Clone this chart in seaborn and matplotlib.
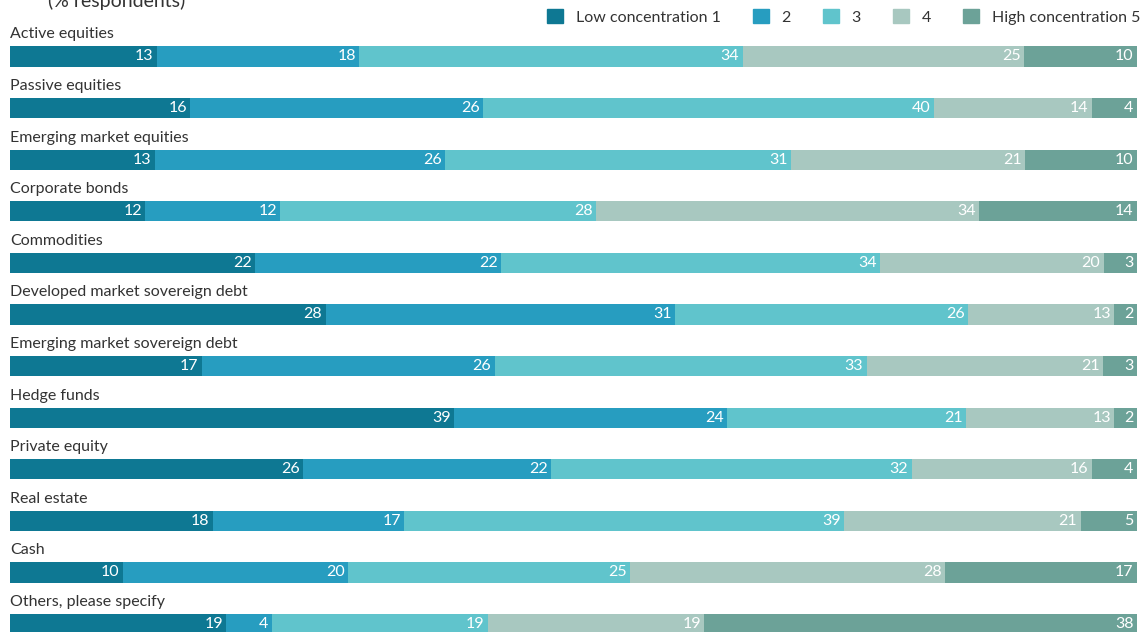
import matplotlib
matplotlib.use("Agg")
import matplotlib.pyplot as plt
import matplotlib.patches as mpatches
import numpy as np
import pandas as pd
import seaborn as sns

categories = ["Active equities", "Passive equities", "Emerging market equities",
              "Corporate bonds", "Commodities", "Developed market sovereign debt",
              "Emerging market sovereign debt", "Hedge funds", "Private equity",
              "Real estate", "Cash", "Others, please specify"]
series_names = ["Low concentration 1", "2", "3", "4", "High concentration 5"]
s1 = [13, 16, 13, 12, 22, 28, 17, 39, 26, 18, 10, 19]
s2 = [18, 26, 26, 12, 22, 31, 26, 24, 22, 17, 20, 4]
s3 = [34, 40, 31, 28, 34, 26, 33, 21, 32, 39, 25, 19]
s4 = [25, 14, 21, 34, 20, 13, 21, 13, 16, 21, 28, 19]
s5 = [10, 4, 10, 14, 3, 2, 3, 2, 4, 5, 17, 38]
colors = ["#0e7893", "#279dc0", "#60c4cc", "#a8c8c0", "#6ca298"]
title = "(% respondents)"

sns.set_theme(style="white")
plt.rcParams["font.family"] = ["Lato", "DejaVu Sans"]

vals = np.array([s1, s2, s3, s4, s5], dtype=float)
totals = vals.sum(axis=0)
shares = vals / totals * 100
cum = np.cumsum(shares, axis=0)

fig = plt.figure(figsize=(11.42, 6.32), dpi=100)
W, H = 1142, 632
ax = fig.add_axes([10 / W, 0, 1127 / W, 1])

for k in range(4, -1, -1):
    df = pd.DataFrame({"cat": categories, "end": cum[k]})
    sns.barplot(data=df, x="end", y="cat", color=colors[k], saturation=1,
                width=0.39, orient="h", ax=ax, linewidth=0)

for k in range(5):
    for i in range(len(categories)):
        ax.text(cum[k][i] - 0.3, i, f"{int(vals[k][i])}", ha="right", va="center",
                color="white", fontsize=11.5)

for i, c in enumerate(categories):
    ax.text(0, i - 0.43, c, ha="left", va="center", color="#333333", fontsize=11.5)

pitch = 51.6
top = -56.5 / pitch
bottom = (632 - 56.5) / pitch
ax.set_xlim(0, 100)
ax.set_ylim(bottom, top)
ax.axis("off")

ax.text((48 - 10) / 1127, top + 1 / pitch, title, transform=ax.get_yaxis_transform(),
        ha="left", va="center", fontsize=14, color="#333333")

handles = [mpatches.Patch(color=colors[k], label=series_names[k]) for k in range(5)]
fig.legend(handles=handles, loc="center right", bbox_to_anchor=(1140 / W, 1 - 17 / H),
           ncol=5, frameon=False, fontsize=11.5, handlelength=1.0, handleheight=1.0,
           handletextpad=0.8, columnspacing=2.0, borderaxespad=0, borderpad=0,
           labelcolor="#333333")

fig.savefig("out.png", dpi=100)
